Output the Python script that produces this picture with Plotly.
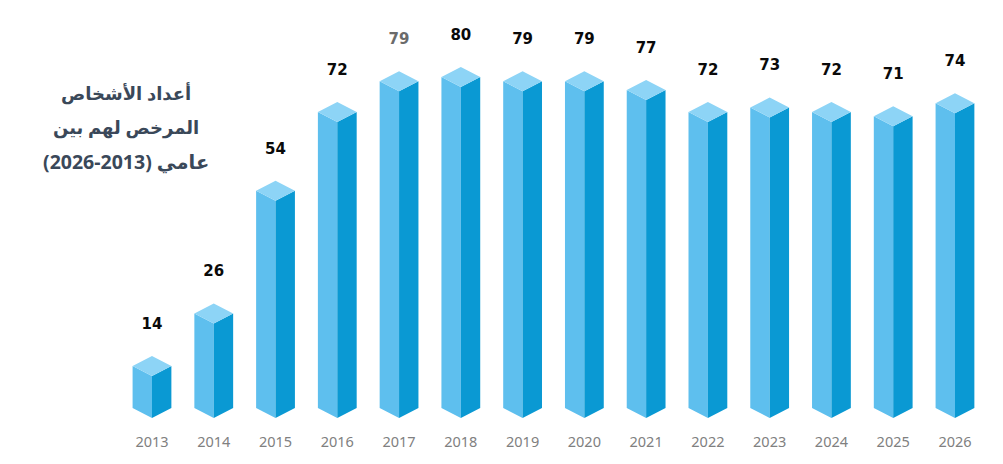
import plotly.graph_objects as go

# ---- data ----
years = ["2013", "2014", "2015", "2016", "2017", "2018", "2019",
         "2020", "2021", "2022", "2023", "2024", "2025", "2026"]
values = [14, 26, 54, 72, 79, 80, 79, 79, 77, 72, 73, 72, 71, 74]
title_lines = ["أعداد الأشخاص", "المرخص لهم بين", "عامي (2013-2026)\u200f"]

# ---- geometry / style ----
W, H = 987, 448          # page body margin of 8px around the figure
M_T, M_B = 0, 32
BASE = 4.4               # value at the bottom front vertex of each prism
HW = 0.314               # half width of a prism (x units)
SLANT = 2.28             # isometric rise of the side edges (y units)
LABEL_GAP = 11.6         # value label centre above the value
Y_RANGE = [3.03, 98.01]
X_RANGE = [-2.331, 13.648]

C_TOP = "#8dd4f6"
C_FRONT = "#5ebfee"
C_SIDE = "#0a99d3"

xs = list(range(len(years)))

front_x, front_y, side_x, side_y, top_x, top_y = [], [], [], [], [], []
for cx, v in zip(xs, values):
    front_x += [cx - HW, cx, cx, cx - HW, cx - HW, None]
    front_y += [BASE + SLANT, BASE, v, v + SLANT, BASE + SLANT, None]
    side_x += [cx, cx + HW, cx + HW, cx, cx, None]
    side_y += [BASE, BASE + SLANT, v + SLANT, v, BASE, None]
    top_x += [cx, cx - HW, cx, cx + HW, cx, None]
    top_y += [v, v + SLANT, v + 2 * SLANT, v + SLANT, v, None]

fig = go.Figure()
for px_, py_, col in [(front_x, front_y, C_FRONT), (side_x, side_y, C_SIDE), (top_x, top_y, C_TOP)]:
    fig.add_trace(go.Scatter(x=px_, y=py_, mode="lines", fill="toself",
                             fillcolor=col, line=dict(width=0, color=col),
                             hoverinfo="skip", showlegend=False))

label_colors = ["#6b6b6b" if y == "2017" else "#0a0a0a" for y in years]
fig.add_trace(go.Scatter(
    x=xs, y=[v + LABEL_GAP for v in values], mode="text",
    text=[str(v) for v in values], textposition="middle center",
    textfont=dict(family="DejaVu Sans", size=15, color=label_colors, weight="bold"),
    hoverinfo="skip", showlegend=False, cliponaxis=False))

plot_h = H - M_T - M_B
for line, ypx, fs in zip(title_lines, [85, 119, 153], [18, 18, 19.5]):
    fig.add_annotation(
        text=line, xref="paper", yref="paper", x=118 / W, y=1 - ypx / plot_h,
        xanchor="center", yanchor="middle", showarrow=False,
        font=dict(family="Noto Sans, DejaVu Sans", size=fs, color="#3a4859", weight="bold"))

fig.update_layout(
    width=W, height=H,
    margin=dict(l=0, r=0, t=M_T, b=M_B),
    paper_bgcolor="white", plot_bgcolor="white",
    xaxis=dict(range=X_RANGE, tickmode="array", tickvals=xs, ticktext=years,
               showgrid=False, zeroline=False, showline=False, ticks="",
               tickfont=dict(family="Noto Sans", size=14.5, color="#808080"),
               ticklabelstandoff=7, fixedrange=True),
    yaxis=dict(range=Y_RANGE, visible=False, fixedrange=True),
)

fig.write_html("out.html")
